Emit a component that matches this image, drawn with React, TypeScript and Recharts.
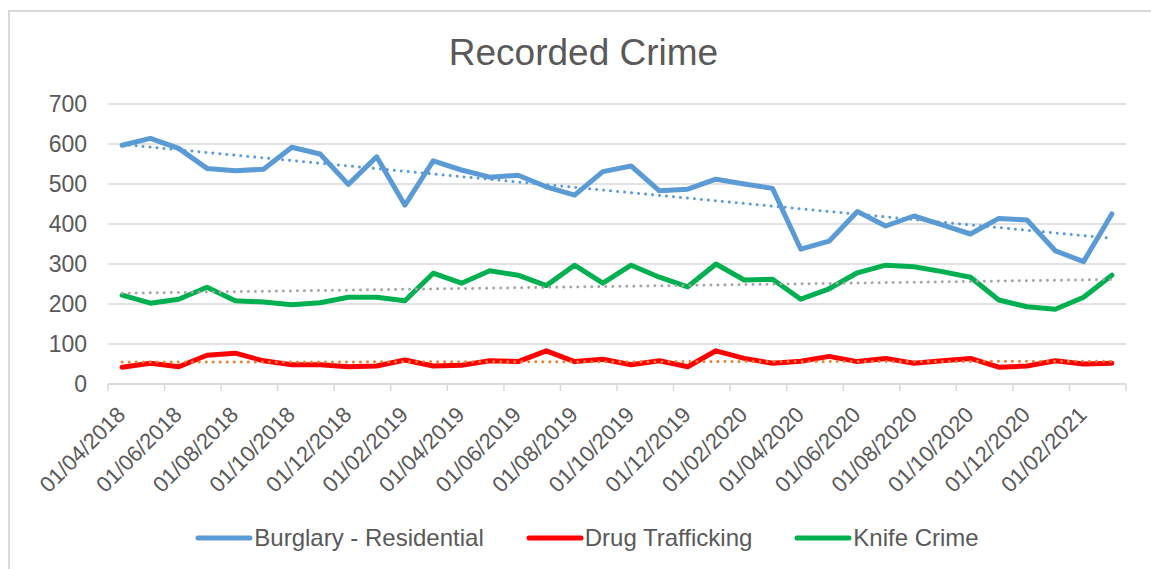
import { LineChart, Line, XAxis, YAxis, CartesianGrid, Legend } from 'recharts';

const MONTHS = [
  '01/04/2018', '01/05/2018', '01/06/2018', '01/07/2018', '01/08/2018', '01/09/2018',
  '01/10/2018', '01/11/2018', '01/12/2018', '01/01/2019', '01/02/2019', '01/03/2019',
  '01/04/2019', '01/05/2019', '01/06/2019', '01/07/2019', '01/08/2019', '01/09/2019',
  '01/10/2019', '01/11/2019', '01/12/2019', '01/01/2020', '01/02/2020', '01/03/2020',
  '01/04/2020', '01/05/2020', '01/06/2020', '01/07/2020', '01/08/2020', '01/09/2020',
  '01/10/2020', '01/11/2020', '01/12/2020', '01/01/2021', '01/02/2021', '01/03/2021',
];

const BURGLARY = [
  597, 614, 589, 539, 533, 537, 592, 575, 499, 568, 447, 558,
  535, 517, 522, 493, 472, 531, 545, 483, 487, 512, 500, 489,
  337, 357, 431, 395, 420, 398, 375, 414, 410, 333, 306, 425,
];

const DRUG_TRAFFICKING = [
  42, 52, 43, 72, 77, 58, 48, 48, 43, 45, 60, 45,
  47, 58, 56, 83, 56, 62, 48, 58, 43, 83, 64, 52,
  57, 69, 56, 64, 52, 58, 64, 42, 45, 58, 50, 52,
];

const KNIFE_CRIME = [
  222, 202, 212, 242, 208, 205, 198, 203, 217, 217, 208, 277,
  252, 283, 272, 246, 297, 252, 297, 267, 243, 300, 260, 262,
  212, 238, 278, 297, 293, 281, 267, 210, 193, 187, 217, 272,
];

const Y_TICKS = [0, 100, 200, 300, 400, 500, 600, 700];

const TEXT = '#595959';
const GRID = '#d9d9d9';
const FONT = '"Liberation Sans", Arial, sans-serif';

const CHART_W = 1141;
const CHART_H = 557;
const MARGIN = { top: 92, right: 25, left: 0, bottom: 0 };
const Y_AXIS_W = 98;
const PLOT_W = CHART_W - MARGIN.left - MARGIN.right - Y_AXIS_W;
const BAND = PLOT_W / MONTHS.length;

// Excel style linear trendline (least squares)
function linearTrend(values: number[]) {
  const n = values.length;
  const mx = (n - 1) / 2;
  const my = values.reduce((a, b) => a + b, 0) / n;
  let num = 0;
  let den = 0;
  values.forEach((v, i) => {
    num += (i - mx) * (v - my);
    den += (i - mx) * (i - mx);
  });
  const slope = num / den;
  return values.map((_, i) => my + slope * (i - mx));
}

const burglaryTrend = linearTrend(BURGLARY);
const drugTrend = linearTrend(DRUG_TRAFFICKING);
const knifeTrend = linearTrend(KNIFE_CRIME);

const data = MONTHS.map((month, i) => ({
  month,
  burglary: BURGLARY[i],
  drugs: DRUG_TRAFFICKING[i],
  knife: KNIFE_CRIME[i],
  burglaryTrend: burglaryTrend[i],
  drugTrend: drugTrend[i],
  knifeTrend: knifeTrend[i],
}));

const LEGEND_ITEMS = [
  { name: 'Burglary - Residential', color: '#5B9BD5' },
  { name: 'Drug Trafficking', color: '#FF0000' },
  { name: 'Knife Crime', color: '#00B050' },
];

function MonthTick(props: any) {
  const { x, y, payload } = props;
  const left = x - BAND / 2;
  const isLast = payload.value === MONTHS[MONTHS.length - 2];
  const tx = x + 4.5;
  const ty = y + 32;
  return (
    <g>
      <line x1={left} x2={left} y1={y} y2={y + 7} stroke={GRID} strokeWidth={1.5} />
      {isLast && (
        <line x1={x + BAND * 1.5} x2={x + BAND * 1.5} y1={y} y2={y + 7} stroke={GRID} strokeWidth={1.5} />
      )}
      <text
        x={tx}
        y={ty}
        transform={`rotate(-45 ${tx} ${ty})`}
        textAnchor="end"
        fontSize={22}
        fontFamily={FONT}
        fill={TEXT}
      >
        {payload.value}
      </text>
    </g>
  );
}

function ValueTick(props: any) {
  const { x, y, payload } = props;
  return (
    <text x={x} y={y} dy={8} textAnchor="end" fontSize={23} fontFamily={FONT} fill={TEXT}>
      {payload.value}
    </text>
  );
}

function CrimeLegend() {
  return (
    <div style={{ display: 'flex', justifyContent: 'center', alignItems: 'center', height: 28 }}>
      {LEGEND_ITEMS.map((item, i) => (
        <div
          key={item.name}
          style={{ display: 'flex', alignItems: 'center', marginLeft: i === 0 ? 0 : 42 }}
        >
          <svg width={58} height={10}>
            <line x1={3} x2={55} y1={5} y2={5} stroke={item.color} strokeWidth={5} strokeLinecap="round" />
          </svg>
          <span style={{ marginLeft: 1, fontSize: 24, fontFamily: FONT, color: TEXT, lineHeight: '28px' }}>
            {item.name}
          </span>
        </div>
      ))}
    </div>
  );
}

export default function App() {
  return (
    <div
      style={{
        position: 'absolute',
        left: 8,
        top: 10,
        width: CHART_W,
        height: CHART_H,
        borderLeft: `2px solid ${GRID}`,
        borderTop: `2px solid ${GRID}`,
        background: '#fff',
        fontFamily: FONT,
      }}
    >
      <div
        style={{
          position: 'absolute',
          top: 22,
          left: 0,
          width: 1147,
          textAlign: 'center',
          fontSize: 37,
          lineHeight: '37px',
          color: TEXT,
          fontFamily: FONT,
        }}
      >
        Recorded Crime
      </div>
      <LineChart width={CHART_W} height={CHART_H} data={data} margin={MARGIN}>
        <CartesianGrid vertical={false} stroke={GRID} strokeWidth={1.5} />
        <XAxis
          dataKey="month"
          interval={1}
          padding={{ left: BAND / 2, right: BAND / 2 }}
          tickLine={false}
          tickSize={0}
          tickMargin={0}
          axisLine={{ stroke: GRID, strokeWidth: 1.5 }}
          height={CHART_H - MARGIN.top - 280}
          tick={<MonthTick />}
        />
        <YAxis
          width={Y_AXIS_W}
          domain={[0, 700]}
          ticks={Y_TICKS}
          axisLine={false}
          tickLine={false}
          tickSize={0}
          tickMargin={21}
          tick={<ValueTick />}
        />
        <Legend
          layout="horizontal"
          verticalAlign="middle"
          align="center"
          wrapperStyle={{ top: 512, left: 0, width: 1154 }}
          content={<CrimeLegend />}
        />
        <Line
          dataKey="burglary"
          name="Burglary - Residential"
          stroke="#5B9BD5"
          strokeWidth={5}
          strokeLinejoin="round"
          strokeLinecap="round"
          dot={false}
          activeDot={false}
          isAnimationActive={false}
        />
        <Line
          dataKey="drugs"
          name="Drug Trafficking"
          stroke="#FF0000"
          strokeWidth={5}
          strokeLinejoin="round"
          strokeLinecap="round"
          dot={false}
          activeDot={false}
          isAnimationActive={false}
        />
        <Line
          dataKey="knife"
          name="Knife Crime"
          stroke="#00B050"
          strokeWidth={5}
          strokeLinejoin="round"
          strokeLinecap="round"
          dot={false}
          activeDot={false}
          isAnimationActive={false}
        />
        <Line
          dataKey="burglaryTrend"
          legendType="none"
          stroke="#5B9BD5"
          strokeWidth={3}
          strokeDasharray="0.01 7"
          strokeLinecap="round"
          dot={false}
          activeDot={false}
          isAnimationActive={false}
        />
        <Line
          dataKey="drugTrend"
          legendType="none"
          stroke="#ED7D31"
          strokeWidth={3}
          strokeDasharray="0.01 7"
          strokeLinecap="round"
          dot={false}
          activeDot={false}
          isAnimationActive={false}
        />
        <Line
          dataKey="knifeTrend"
          legendType="none"
          stroke="#A5A5A5"
          strokeWidth={3}
          strokeDasharray="0.01 7"
          strokeLinecap="round"
          dot={false}
          activeDot={false}
          isAnimationActive={false}
        />
      </LineChart>
    </div>
  );
}
